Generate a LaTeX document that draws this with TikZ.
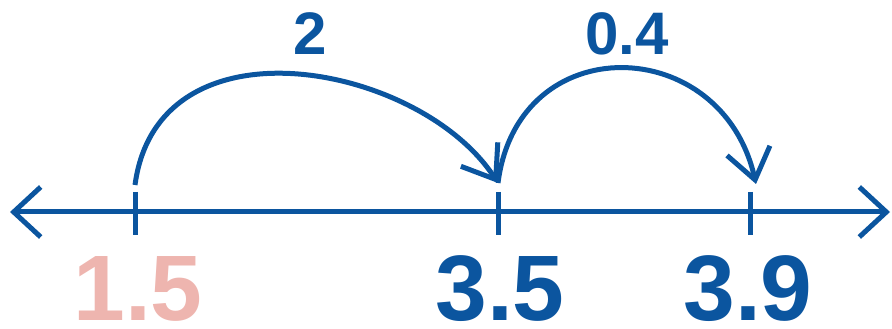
\documentclass[tikz,border=0pt]{standalone}
\usepackage{fontspec}
\setmainfont{Liberation Sans}
\usetikzlibrary{arrows.meta}
\definecolor{nlblue}{HTML}{0B559F}
\definecolor{nlpink}{HTML}{EEB5AF}
\begin{document}
\begin{tikzpicture}[x=1pt,y=1pt,
  axis/.style={draw=nlblue,line width=5pt},
  tick/.style={draw=nlblue,line width=5pt},
  hop/.style={draw=nlblue,line width=5pt,-{Straight Barb[length=30pt,width=44pt]}},
  big/.style={font=\fontsize{93}{93}\selectfont\bfseries,anchor=base,inner sep=0pt,text depth=0pt},
  small/.style={font=\fontsize{60}{60}\selectfont\bfseries,text=nlblue,anchor=base,inner sep=0pt}]
\useasboundingbox (0,0) rectangle (892,329);
\coordinate (L) at (10,117);
\coordinate (R) at (890,117);
\coordinate (t1) at (135,117);
\coordinate (t2) at (498,117);
\coordinate (t3) at (750,117);
\coordinate (a1) at (135,144);
\coordinate (a2) at (498,146);
\coordinate (a3) at (756,145);
\draw[axis,{Straight Barb[length=27pt,width=50pt]}-{Straight Barb[length=27pt,width=50pt]}] (L) -- (R);
\foreach \t in {t1,t2,t3}{
  \draw[tick] ([yshift=20pt]\t) -- ([yshift=-23pt]\t);
}
\draw[hop] (a1) .. controls (158,316) and (420,266) .. (a2);
\draw[hop] (a2) .. controls (518,302) and (722,296) .. (a3);
\node[big,text=nlpink] (n1) at (138,8) {1.5};
\node[big,text=nlblue] (n2) at (500,8) {3.5};
\node[big,text=nlblue] (n3) at (748,8) {3.9};
\node[small] (d1) at (310,274) {2};
\node[small] (d2) at (627,274) {0.4};
\end{tikzpicture}
\end{document}
